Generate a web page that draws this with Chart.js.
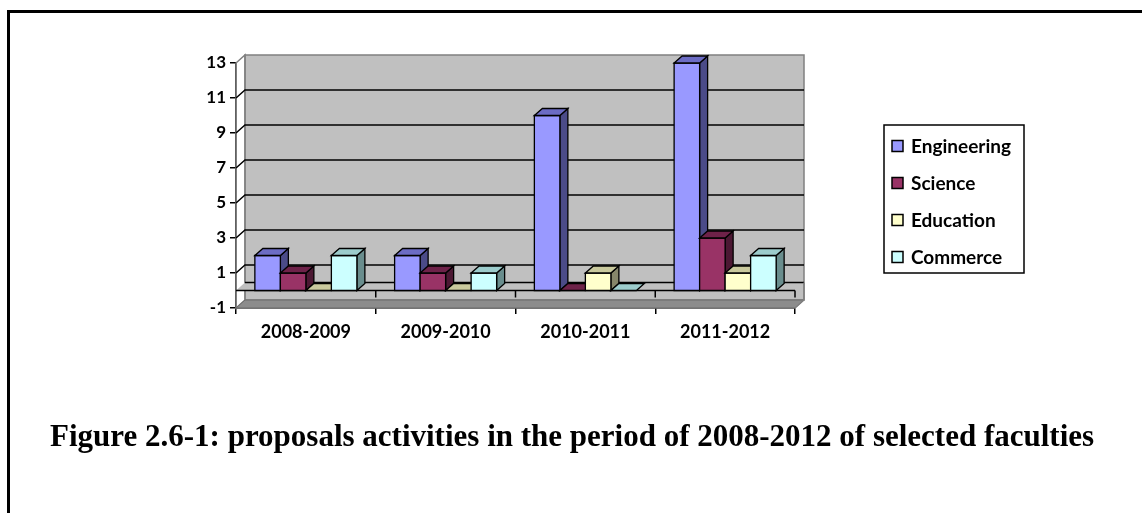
<!DOCTYPE html>
<html>
<head>
<meta charset="utf-8">
<script src="https://cdn.jsdelivr.net/npm/chart.js@4.4.0/dist/chart.umd.min.js"></script>
<style>
  body { margin: 0; background: #fff; }
  #frame { position: absolute; left: 7px; top: 10px; width: 1200px; height: 600px;
           border-left: 3px solid #000; border-top: 3px solid #000; }
  #c { position: absolute; left: 0; top: 0; }
  #caption { position: absolute; left: 50px; top: 418px; white-space: nowrap;
             font: bold 31px "Liberation Serif", "Times New Roman", serif; color: #000; }
</style>
</head>
<body>
<div id="frame"></div>
<canvas id="c" width="1142" height="513"></canvas>
<div id="caption">Figure 2.6-1: proposals activities in the period of 2008-2012 of selected faculties</div>
<script>
var years = ["2008-2009", "2009-2010", "2010-2011", "2011-2012"];
var engineering = [2, 2, 10, 13];
var science = [1, 1, 0, 3];
var education = [0, 0, 1, 1];
var commerce = [2, 1, 0, 2];

var yTicks = [-1, 1, 3, 5, 7, 9, 11, 13];

// front, top, side shades for the 3d boxes
var shades = {
  Engineering: ["#9999ff", "#6c6cc4", "#4b4b88"],
  Science: ["#993366", "#6e2249", "#4c1833"],
  Education: ["#ffffcc", "#c9c99d", "#86866a"],
  Commerce: ["#ccffff", "#9ccccc", "#698d8d"]
};

var DX = 9, DY = -8;      // wall depth
var BX = 8, BY = -7;      // bar depth

var fam = "Lato, 'Open Sans', sans-serif";

function poly(ctx, pts, fill, stroke, lw) {
  ctx.beginPath();
  ctx.moveTo(pts[0][0], pts[0][1]);
  for (var i = 1; i < pts.length; i++) ctx.lineTo(pts[i][0], pts[i][1]);
  ctx.closePath();
  if (fill) { ctx.fillStyle = fill; ctx.fill(); }
  if (stroke) { ctx.strokeStyle = stroke; ctx.lineWidth = lw || 1; ctx.stroke(); }
}

var box3d = {
  id: "box3d",
  beforeDatasetsDraw: function (chart) {
    var ctx = chart.ctx, a = chart.chartArea;
    var ys = chart.scales.y, xs = chart.scales.x;
    var y0 = ys.getPixelForValue(0);
    var L = a.left, R = a.right, T = a.top, B = a.bottom;
    ctx.save();

    // back wall
    poly(ctx, [[L + DX, T + DY], [R + DX, T + DY], [R + DX, B + DY], [L + DX, B + DY]], "#c0c0c0", "#808080", 1.5);
    // left side wall edge
    poly(ctx, [[L, T], [L + DX, T + DY], [L + DX, B + DY], [L, B]], null, "#808080", 1.5);

    // gridlines on the back wall
    ctx.strokeStyle = "#000"; ctx.lineWidth = 1.5;
    yTicks.forEach(function (v) {
      if (v <= ys.min || v >= ys.max) return;
      var y = ys.getPixelForValue(v);
      ctx.beginPath();
      ctx.moveTo(L, y); ctx.lineTo(L + DX, y + DY); ctx.lineTo(R + DX, y + DY);
      ctx.stroke();
    });

    // floor at the bottom
    poly(ctx, [[L, B], [R, B], [R + DX, B + DY], [L + DX, B + DY]], "#8c8c8c", "#6a6a6a", 1);
    // plane at zero
    poly(ctx, [[L, y0], [R, y0], [R + DX, y0 + DY], [L + DX, y0 + DY]], "#c0c0c0", null);
    ctx.strokeStyle = "#000"; ctx.lineWidth = 1.5;
    ctx.beginPath();
    ctx.moveTo(L + DX, y0 + DY); ctx.lineTo(R + DX, y0 + DY);
    ctx.moveTo(L, y0); ctx.lineTo(R, y0);
    ctx.stroke();
    // category ticks on the zero plane
    for (var i = 1; i <= years.length; i++) {
      var xb = xs.getPixelForValue(i - 0.5);
      ctx.beginPath(); ctx.moveTo(xb, y0); ctx.lineTo(xb, y0 + 7); ctx.stroke();
    }
    // right edge of the slab
    ctx.strokeStyle = "#808080";
    ctx.beginPath(); ctx.moveTo(R, B); ctx.lineTo(R + DX, B + DY); ctx.lineTo(R + DX, y0 + DY); ctx.stroke();

    // bars, left to right inside each group
    chart.data.datasets.forEach(function (ds, di) {
      var sh = shades[ds.label];
      chart.getDatasetMeta(di).data.forEach(function (bar) {
        var x0 = bar.x - bar.width / 2, x1 = bar.x + bar.width / 2;
        var top = bar.y, base = bar.base;
        var lw = 1.3;
        if (Math.abs(base - top) > 0.5) {
          poly(ctx, [[x1, top], [x1 + BX, top + BY], [x1 + BX, base + BY], [x1, base]], sh[2], "#000", lw);
          poly(ctx, [[x0, top], [x1, top], [x1, base], [x0, base]], sh[0], "#000", lw);
        }
        poly(ctx, [[x0, top], [x0 + BX, top + BY], [x1 + BX, top + BY], [x1, top]], sh[1], "#000", lw);
      });
    });

    // legend
    var lx = 884, ly = 125, lw2 = 140, lh = 148;
    ctx.fillStyle = "#fff"; ctx.fillRect(lx, ly, lw2, lh);
    ctx.strokeStyle = "#000"; ctx.lineWidth = 1.5; ctx.strokeRect(lx, ly, lw2, lh);
    ctx.font = "bold 19px " + fam;
    ctx.textBaseline = "middle"; ctx.textAlign = "left";
    chart.data.datasets.forEach(function (ds, di) {
      var cy = ly + 21 + di * 37;
      ctx.fillStyle = ds.backgroundColor;
      ctx.fillRect(lx + 8, cy - 5.5, 11, 11);
      ctx.strokeRect(lx + 8, cy - 5.5, 11, 11);
      ctx.fillStyle = "#000";
      ctx.fillText(ds.label, lx + 27, cy + 1);
    });

    ctx.restore();
    return false;
  }
};

new Chart(document.getElementById("c"), {
  type: "bar",
  data: {
    labels: years,
    datasets: [
      { label: "Engineering", data: engineering, backgroundColor: shades.Engineering[0] },
      { label: "Science", data: science, backgroundColor: shades.Science[0] },
      { label: "Education", data: education, backgroundColor: shades.Education[0] },
      { label: "Commerce", data: commerce, backgroundColor: shades.Commerce[0] }
    ]
  },
  options: {
    responsive: false,
    animation: false,
    devicePixelRatio: 1,
    categoryPercentage: 0.73,
    barPercentage: 1,
    layout: { padding: { left: 180, right: 347, top: 63, bottom: 175 } },
    plugins: { legend: { display: false }, tooltip: { enabled: false } },
    scales: {
      x: {
        grid: { offset: true, drawOnChartArea: false, tickLength: 6, color: "#000", lineWidth: 1.5 },
        border: { color: "#000", width: 1.5 },
        ticks: { font: { family: fam, size: 18, weight: "bold" }, color: "#000", padding: 7, maxRotation: 0 },
        afterFit: function (s) { s.height = 30; }
      },
      y: {
        min: -1, max: 13,
        afterBuildTicks: function (s) { s.ticks = yTicks.map(function (v) { return { value: v }; }); },
        grid: { drawOnChartArea: false, tickLength: 6, color: "#000", lineWidth: 1.5 },
        border: { color: "#000", width: 1.5 },
        ticks: { font: { family: fam, size: 17, weight: "bold" }, color: "#000", padding: 4 },
        afterFit: function (s) { s.width = 56; }
      }
    }
  },
  plugins: [box3d]
});
</script>
</body>
</html>
